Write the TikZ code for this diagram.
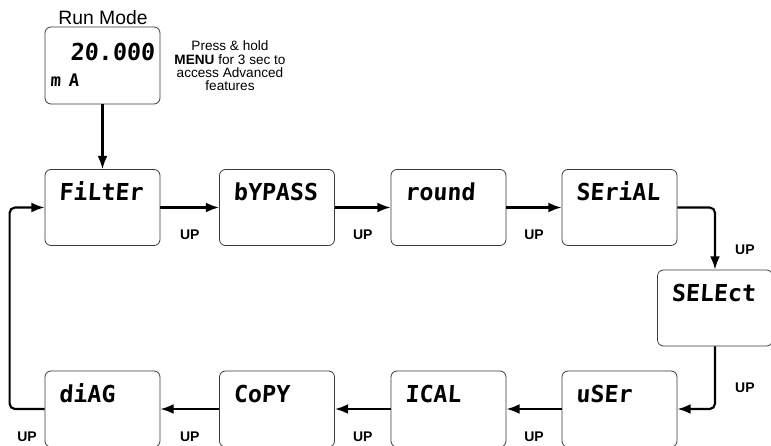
\documentclass[tikz,border=0pt]{standalone}
\usepackage{fontspec}
\setmainfont{Liberation Sans}
\newfontfamily\segfont[FakeSlant=0.06]{DejaVu Sans Mono}
\usetikzlibrary{arrows.meta,positioning}
\definecolor{frame}{HTML}{3A3A3A}
\tikzset{
  screen/.style={draw=frame,rounded corners=4.5pt,line width=0.6pt,
    minimum width=86.25pt,minimum height=57pt,text width=65.25pt,align=left,
    inner xsep=10.5pt,inner ysep=0pt,text height=23.25pt,text depth=33.75pt,
    font=\segfont\bfseries\fontsize{17.5}{20.25}\selectfont},
  arr/.style={-{Latex[length=10pt,width=7.5pt]},line width=1.6pt,rounded corners=4pt},
  up/.style={font=\bfseries\fontsize{10.5}{12}\selectfont},
  note/.style={font=\fontsize{10.2}{10}\selectfont,align=center}
}

\begin{document}
\begin{tikzpicture}[x=0.75pt,y=-0.75pt]
  \useasboundingbox (0,0) rectangle (771,446);
  \clip (0,0) rectangle (771,446);

  \node[font=\fontsize{14.5}{14}\selectfont,anchor=base] (title) at (103,24) {Run Mode};
  \node[screen,text width=78.25pt,inner xsep=4pt,text height=24.75pt,text depth=33pt]
    (run) at (102.5,65.5) {\hspace*{\fill}20.000\\{\fontsize{13}{20.25}\selectfont m A}};
  \node[note] (hint) at (230,66)
    {Press \& hold\\\textbf{MENU} for 3 sec to\\access Advanced\\features};

  \node[screen] (filter) at (102.5,207.5) {FiLtEr};
  \node[screen] (bypass) at (277,207.5) {bYPASS};
  \node[screen] (round) at (448.5,207.5) {round};
  \node[screen] (serial) at (619.5,207.5) {SEriAL};
  \node[screen] (select) at (715,308) {SELEct};
  \node[screen] (user) at (619.5,409) {uSEr};
  \node[screen] (ical) at (448.5,409) {ICAL};
  \node[screen] (copy) at (277,409) {CoPY};
  \node[screen] (diag) at (102.5,409) {diAG};

  \draw[arr] (run) -- (filter);
  \draw[arr] (filter) -- node[up,below=13pt] {UP} (bypass);
  \draw[arr] (bypass) -- node[up,below=13pt] {UP} (round);
  \draw[arr] (round) -- node[up,below=13pt] {UP} (serial);
  \draw[arr] (serial.east) -| node[up,right=11pt,pos=0.84] {UP} (select.north);
  \draw[arr] (select.south) |- node[up,right=11pt,pos=0.33] {UP} (user.east);
  \draw[arr] (user) -- node[up,below=13pt] {UP} (ical);
  \draw[arr] (ical) -- node[up,below=13pt] {UP} (copy);
  \draw[arr] (copy) -- node[up,below=13pt] {UP} (diag);
  \draw[arr] (diag.west) -- node[up,below=13pt] {UP} ++(-35,0) |- (filter.west);
\end{tikzpicture}
\end{document}
